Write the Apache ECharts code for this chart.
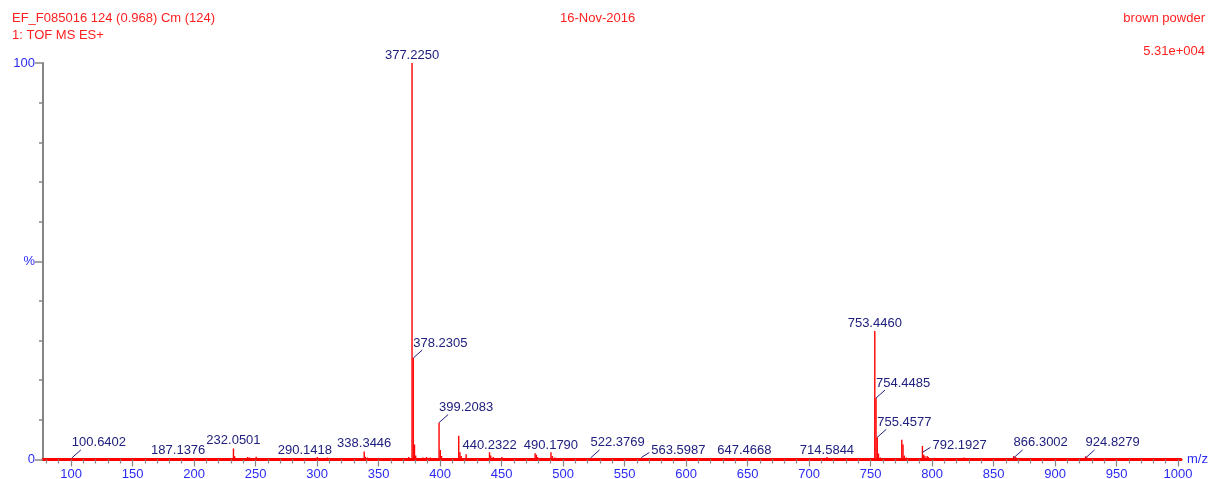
<!DOCTYPE html>
<html>
<head>
<meta charset="utf-8">
<script src="https://cdn.jsdelivr.net/npm/echarts@6/dist/echarts.min.js"></script>
<style>
html,body{margin:0;padding:0;background:#fff;}
#chart{width:1208px;height:479px;}
</style>
</head>
<body>
<div id="chart"></div>
<script>
// Peak positions (m/z) and relative intensities (%)
const peakMz = [100.6402,187.1376,232.0501,233.0,243.5,245.0,250.5,290.1418,300.2,308.5,338.3446,339.3,341.0,350.3,374.5,377.2250,378.2305,379.23,380.2,386.0,389.0,392.0,399.2083,400.21,401.2,415.2,416.2,417.2,421.2,440.2322,441.2,443.2,450.3,477.3,478.3,479.3,490.1790,491.2,493.2,512.0,522.3769,530.0,545.0,555.0,563.5987,580.0,600.0,612.0,632.0,647.4668,660.0,668.0,680.0,700.0,714.5844,716.0,735.0,745.0,753.4460,754.4485,755.4577,756.46,758.0,767.0,772.0,775.4,776.4,777.4,779.0,790.0,792.1927,793.2,794.2,796.0,797.0,800.0,810.0,826.0,830.0,866.3002,868.0,888.0,906.0,922.0,924.8279,926.0,935.0,948.0];
const peakInt = [0.4,0.3,2.8,0.8,0.6,0.5,0.7,0.4,0.6,0.5,2.0,0.7,0.5,0.4,0.6,100,25.6,3.8,1.0,0.5,0.6,0.5,9.3,2.4,0.9,6.0,1.8,0.9,1.3,1.8,1.0,0.6,0.6,1.6,1.2,0.6,1.8,0.9,0.5,0.4,0.4,0.4,0.3,0.4,0.4,0.3,0.4,0.3,0.3,0.4,0.4,0.3,0.3,0.3,0.6,0.4,0.4,0.3,32.4,15.5,5.6,1.5,0.5,0.4,0.4,5.0,3.8,1.0,0.5,0.4,3.4,1.2,0.8,0.9,0.6,0.4,0.4,0.5,0.4,0.9,0.6,0.4,0.4,0.4,0.8,0.5,0.4,0.3];

// Labelled peaks: m/z, anchor intensity, label kind (0 centred, 1 leader, 2 short leader)
const labelMz = [377.2250,378.2305,753.4460,754.4485,755.4577,399.2083,232.0501,338.3446,100.6402,187.1376,290.1418,440.2322,490.1790,522.3769,563.5987,647.4668,714.5844,792.1927,866.3002,924.8279];
const labelAnchor = [100,25.6,32.4,15.5,5.6,9.3,2.8,2.0,0.4,0.3,0.3,1.6,1.6,0.4,0.5,0.3,0.3,1.8,0.4,0.4];
const labelKind = [0,1,0,1,1,1,0,0,1,0,0,0,0,1,2,0,0,2,1,1];

// Axis ticks
const xMajorTicks = [100,150,200,250,300,350,400,450,500,550,600,650,700,750,800,850,900,950,1000];
const xMinorTicks = [80,90,110,120,130,140,160,170,180,190,210,220,230,240,260,270,280,290,310,320,330,340,360,370,380,390,410,420,430,440,460,470,480,490,510,520,530,540,560,570,580,590,610,620,630,640,660,670,680,690,710,720,730,740,760,770,780,790,810,820,830,840,860,870,880,890,910,920,930,940,960,970,980,990];
const yMajorTicks = [0,50,100];
const yMinorTicks = [10,20,30,40,60,70,80,90];
const yTickText = {0:'0',50:'%',100:'100'};

const FONT = '"Liberation Sans", Arial, sans-serif';
const RED = '#ff1f1f';
const AXBLUE = '#2b2bf5';
const NAVY = '#20207e';
const GRAY = '#858585';

const chart = echarts.init(document.getElementById('chart'), null, {renderer:'canvas'});

const stickData = peakMz.map((m,i)=>[m, peakInt[i]]);
const labelData = labelMz.map((m,i)=>[m, labelAnchor[i], labelKind[i]]);

const option = {
  animation:false,
  backgroundColor:'#ffffff',
  grid:{left:43, right:27, top:63, bottom:19.5, containLabel:false, outerBoundsMode:'none'},
  graphic:[
    {type:'text', left:12, top:12, style:{text:'EF_F085016 124 (0.968) Cm (124)', fill:RED, font:'13px '+FONT}},
    {type:'text', left:12, top:29, style:{text:'1: TOF MS ES+', fill:RED, font:'13px '+FONT}},
    {type:'text', left:560, top:12, style:{text:'16-Nov-2016', fill:RED, font:'13px '+FONT}},
    {type:'text', right:3, top:12, style:{text:'brown powder', fill:RED, font:'13px '+FONT}},
    {type:'text', right:3, top:45, style:{text:'5.31e+004', fill:RED, font:'13px '+FONT}}
  ],
  xAxis:[
    {type:'value', min:77.2, max:1002.4, position:'bottom',
     axisLine:{show:true, onZero:false, lineStyle:{color:'#ff0000', width:3}},
     axisTick:{show:true, customValues:xMajorTicks, length:7, lineStyle:{color:GRAY, width:1.2}},
     axisLabel:{show:true, customValues:xMajorTicks, formatter:v=>String(v), color:AXBLUE, fontSize:13, fontFamily:FONT, margin:8},
     splitLine:{show:false},
     name:'m/z', nameLocation:'end', nameGap:6,
     nameTextStyle:{color:AXBLUE, fontSize:13, fontFamily:FONT, verticalAlign:'middle', padding:[3,0,0,0]}},
    {type:'value', min:77.2, max:1002.4, position:'bottom',
     axisLine:{show:false},
     axisTick:{show:true, customValues:xMinorTicks, length:4, lineStyle:{color:GRAY, width:1.2}},
     axisLabel:{show:false},
     splitLine:{show:false}}
  ],
  yAxis:[
    {type:'value', min:0, max:100, position:'left',
     axisLine:{show:true, onZero:false, lineStyle:{color:GRAY, width:2}},
     axisTick:{show:true, customValues:yMajorTicks, length:8, lineStyle:{color:GRAY, width:1.5}},
     axisLabel:{show:true, customValues:yMajorTicks, formatter:v=>yTickText[v], color:AXBLUE, fontSize:13, fontFamily:FONT, margin:8},
     splitLine:{show:false}},
    {type:'value', min:0, max:100, position:'left', offset:0,
     axisLine:{show:false},
     axisTick:{show:true, customValues:yMinorTicks, length:4, lineStyle:{color:GRAY, width:1.5}},
     axisLabel:{show:false},
     splitLine:{show:false}}
  ],
  series:[
    {type:'custom', name:'spectrum', xAxisIndex:0, yAxisIndex:0, encode:{x:0, y:1},
     data:stickData, clip:true, z:3,
     renderItem:function(params, api){
       const x = api.value(0), y = api.value(1);
       const p0 = api.coord([x, 0]), p1 = api.coord([x, y]);
       return {type:'line', shape:{x1:p0[0], y1:p0[1], x2:p1[0], y2:p1[1]},
               style:{stroke:'#ff0000', lineWidth:1.4}};
     }},
    {type:'custom', name:'labels', xAxisIndex:0, yAxisIndex:0, encode:{x:0, y:1},
     data:labelData, z:5,
     renderItem:function(params, api){
       const x = api.value(0), y = api.value(1), k = api.value(2);
       const p = api.coord([x, y]);
       const txt = x.toFixed(4);
       const font = '13px ' + FONT;
       if (k === 0) {
         return {type:'text', style:{text:txt, x:p[0], y:p[1]-8, fill:NAVY, font:font, align:'center', verticalAlign:'middle'}};
       } else if (k === 1) {
         return {type:'group', children:[
           {type:'line', shape:{x1:p[0], y1:p[1], x2:p[0]+9, y2:p[1]-8}, style:{stroke:NAVY, lineWidth:1}},
           {type:'text', style:{text:txt, x:p[0], y:p[1]-15, fill:NAVY, font:font, align:'left', verticalAlign:'middle'}}
         ]};
       } else {
         return {type:'group', children:[
           {type:'line', shape:{x1:p[0], y1:p[1], x2:p[0]+8, y2:p[1]-5}, style:{stroke:NAVY, lineWidth:1}},
           {type:'text', style:{text:txt, x:p[0]+10, y:p[1]-7, fill:NAVY, font:font, align:'left', verticalAlign:'middle'}}
         ]};
       }
     }}
  ]
};
chart.setOption(option);
</script>
</body>
</html>
